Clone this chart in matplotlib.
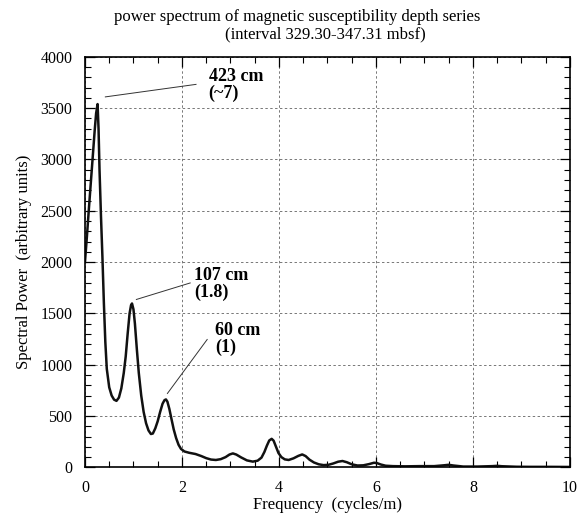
import matplotlib
matplotlib.use('Agg')
import matplotlib.pyplot as plt
from matplotlib.ticker import MultipleLocator

plt.rcParams['font.family'] = ['Liberation Serif', 'DejaVu Serif']

# spectrum
freq = [0.00, 0.04, 0.08, 0.12, 0.16, 0.20, 0.23, 0.26, 0.28, 0.30, 0.33, 0.36,
        0.39, 0.42, 0.45, 0.50, 0.55, 0.60, 0.65, 0.70, 0.75, 0.80, 0.84, 0.88,
        0.92, 0.95, 0.97, 1.00, 1.03, 1.07, 1.11, 1.16, 1.21, 1.26, 1.31, 1.36,
        1.40, 1.45, 1.50, 1.55, 1.60, 1.64, 1.67, 1.70, 1.74, 1.78, 1.83, 1.88,
        1.93, 1.98, 2.05, 2.15, 2.28, 2.40, 2.50, 2.60, 2.70, 2.80, 2.90, 2.98,
        3.05, 3.12, 3.22, 3.34, 3.46, 3.56, 3.64, 3.70, 3.75, 3.80, 3.85, 3.89,
        3.94, 3.99, 4.05, 4.12, 4.20, 4.30, 4.40, 4.48, 4.55, 4.63, 4.72, 4.82,
        4.92, 5.02, 5.12, 5.22, 5.31, 5.40, 5.50, 5.62, 5.74, 5.86, 5.96, 6.02,
        6.10, 6.20, 6.35, 6.60, 6.90, 7.20, 7.40, 7.50, 7.60, 7.80, 8.10, 8.40,
        8.50, 8.60, 8.90, 9.20, 9.60, 10.0]
power = [2000, 2250, 2515, 2770, 3024, 3280, 3450, 3540, 3300, 2900, 2450, 2050,
         1600, 1220, 960, 780, 700, 660, 648, 680, 770, 920, 1080, 1300,
         1500, 1580, 1597, 1540, 1400, 1150, 920, 700, 540, 430, 360, 325,
         330, 380, 450, 540, 620, 655, 662, 640, 570, 480, 370, 285,
         220, 180, 155, 142, 130, 110, 90, 76, 72, 80, 100, 125,
         136, 125, 97, 68, 56, 65, 95, 150, 210, 262, 278, 260,
         200, 140, 100, 78, 72, 88, 112, 126, 110, 75, 48, 30,
         22, 25, 38, 55, 62, 50, 30, 18, 20, 32, 45, 42,
         28, 16, 12, 10, 12, 12, 20, 25, 18, 8, 8, 12,
         15, 11, 6, 5, 5, 4]

peak_labels = ['423 cm\n(~7)', '107 cm\n(1.8)', '60 cm\n(1)']
peak_points = [(0.42, 3610), (1.06, 1636), (1.70, 720)]
line_ends = [(2.29, 3732), (2.17, 1797), (2.52, 1246)]
text_pos = [(2.55, 3725), (2.25, 1785), (2.68, 1252)]

fig = plt.figure(figsize=(5.78, 5.17), dpi=100)
ax = fig.add_axes([0.147, 0.096, 0.839, 0.794])

ax.plot(freq, power, color='#111111', lw=1.8)

ax.set_xlim(0, 10)
ax.set_ylim(0, 4000)
ax.xaxis.set_major_locator(MultipleLocator(2))
ax.xaxis.set_minor_locator(MultipleLocator(0.5))
ax.yaxis.set_major_locator(MultipleLocator(500))
ax.yaxis.set_minor_locator(MultipleLocator(100))
ax.tick_params(which='both', direction='in', top=True, right=True, labelsize=11.5)
ax.tick_params(which='major', length=7, width=0.9)
ax.tick_params(which='minor', length=4, width=0.8)
ax.tick_params(axis='x', which='major', pad=9)
ax.tick_params(axis='y', which='major', pad=9)
ax.grid(True, which='major', color='#777777', linestyle=(0, (2.5, 2.5)), lw=0.7)
for s in ax.spines.values():
    s.set_linewidth(1.2)

for lab, p, e, t in zip(peak_labels, peak_points, line_ends, text_pos):
    ax.plot([p[0], e[0]], [p[1], e[1]], color='#333333', lw=0.7)
    ax.text(t[0], t[1], lab, fontsize=13, fontweight='bold', va='center', ha='left',
            linespacing=1.0)

ax.set_xlabel('Frequency  (cycles/m)', fontsize=12, labelpad=1)
ax.set_ylabel('Spectral Power  (arbitrary units)', fontsize=12, labelpad=6)
fig.text(0.514, 0.982, 'power spectrum of magnetic susceptibility depth series',
         fontsize=12, ha='center', va='top')
fig.text(0.563, 0.949, '(interval 329.30-347.31 mbsf)',
         fontsize=12, ha='center', va='top')

plt.savefig('out.png', dpi=100)
